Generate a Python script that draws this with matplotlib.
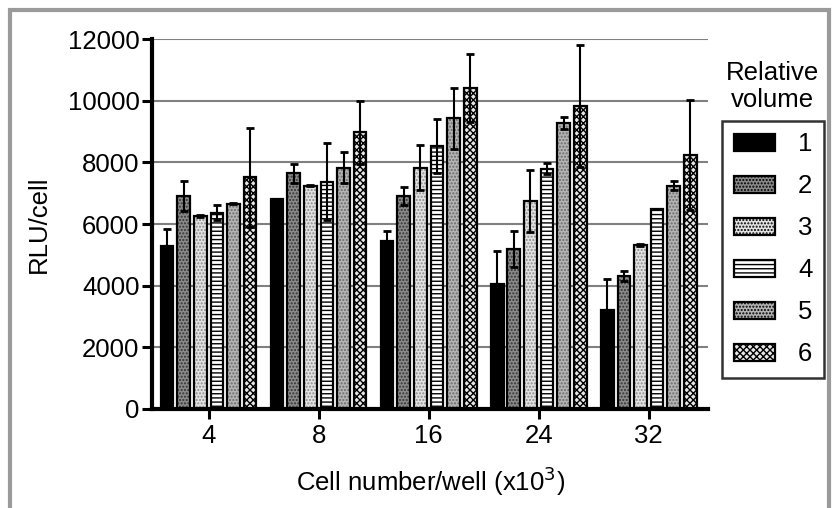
import numpy as np
import matplotlib.pyplot as plt
from matplotlib.patches import Rectangle

plt.rcParams['font.family'] = ['Liberation Sans', 'DejaVu Sans']
plt.rcParams['hatch.linewidth'] = 1.0

# cell number per well (x10^3)
groups = ['4', '8', '16', '24', '32']
volumes = ['1', '2', '3', '4', '5', '6']

# RLU/cell means and error bars, one list per relative volume
v1 = [5300, 6800, 5450, 4050, 3200]
v2 = [6900, 7650, 6900, 5200, 4300]
v3 = [6270, 7250, 7830, 6750, 5320]
v4 = [6370, 7370, 8530, 7790, 6490]
v5 = [6660, 7830, 9430, 9280, 7250]
v6 = [7510, 8980, 10410, 9830, 8240]

e1 = [550, 0, 320, 1080, 1030]
e2 = [490, 310, 290, 580, 160]
e3 = [30, 20, 730, 1000, 20]
e4 = [240, 1250, 870, 180, 10]
e5 = [20, 500, 1000, 190, 130]
e6 = [1600, 1020, 1100, 1980, 1800]

means = [v1, v2, v3, v4, v5, v6]
errs = [e1, e2, e3, e4, e5, e6]

# fill, hatch, hatch colour for each volume
styles = [
    ('black', '', 'black'),
    ('#8a8a8a', '.....', '#333333'),
    ('#e2e2e2', '.....', '#8c8c8c'),
    ('white', '----', 'black'),
    ('#b4b4b4', '.....', '#6a6a6a'),
    ('#e8e8e8', 'xxxxx', 'black'),
]

fig = plt.figure(figsize=(8.32, 5.08), dpi=100)
ax = fig.add_axes([0.1827, 0.195, 0.6685, 0.728])

x = np.arange(len(groups))
step = 0.151
width = 0.115

handles = []
for i, (m, e) in enumerate(zip(means, errs)):
    fc, hatch, hc = styles[i]
    pos = x + (i - 2.5) * step
    # hatch layer, then outline on top
    ax.bar(pos, m, width, color=fc, hatch=hatch, edgecolor=hc, linewidth=0, zorder=2)
    ax.bar(pos, m, width, color='none', edgecolor='black', linewidth=1.6, zorder=3)
    ax.errorbar(pos, m, yerr=e, fmt='none', ecolor='black', elinewidth=1.5,
                capsize=3, capthick=2, zorder=4)
    handles.append(Rectangle((0, 0), 1, 1, facecolor=fc, hatch=hatch,
                             edgecolor='black', linewidth=1.6))

ax.set_xlim(-0.514, 4.54)
ax.set_ylim(0, 12000)
ax.set_yticks(range(0, 12001, 2000))
ax.set_xticks(x)
ax.set_xticklabels(groups)

ax.yaxis.grid(True, color='#808080', linewidth=1.5)
ax.set_axisbelow(True)

for side in ['top', 'right']:
    ax.spines[side].set_visible(False)
ax.spines['left'].set_linewidth(3)
ax.spines['bottom'].set_linewidth(3)
ax.tick_params(axis='y', direction='out', length=7, width=2.2, labelsize=18.5, pad=2)
ax.tick_params(axis='x', direction='out', length=7, width=2.2, labelsize=18.5, pad=4)

ax.set_ylabel('RLU/cell', fontsize=18.5, labelpad=12)
ax.set_xlabel('Cell number/well (x10$^3$)', fontsize=18.5, labelpad=12)

leg = fig.legend(handles, volumes, loc='upper left', bbox_to_anchor=(0.868, 0.762),
                 fontsize=18.5, frameon=True, fancybox=False, edgecolor='black',
                 handlelength=1.6, handleheight=0.62, labelspacing=0.7,
                 handletextpad=0.9, borderpad=0.45, borderaxespad=0)
leg.get_frame().set_linewidth(1.8)

fig.text(0.928, 0.829, 'Relative\nvolume', fontsize=18.5, ha='center', va='center',
         linespacing=1.15)

# grey frame round the figure
fig.patches.append(Rectangle((0.0115, -0.05), 0.9845, 1.031, transform=fig.transFigure,
                             fill=False, edgecolor='#9a9a9a', linewidth=3))

fig.savefig('out.png', dpi=100)
